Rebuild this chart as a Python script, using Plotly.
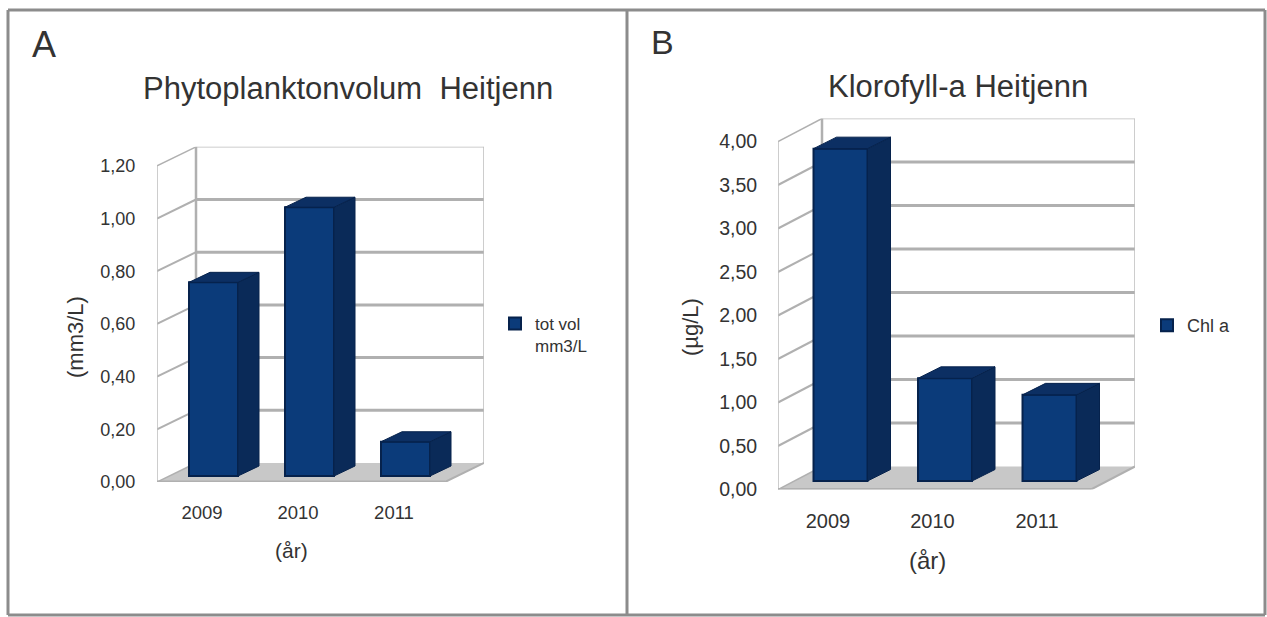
import plotly.graph_objects as go

W, H = 1267, 617

# ---------- data ----------
years = ["2009", "2010", "2011"]
phyto_values = [0.735, 1.02, 0.13]
phyto_ticks = [0.0, 0.2, 0.4, 0.6, 0.8, 1.0, 1.2]
chla_values = [3.82, 1.18, 0.99]
chla_ticks = [0.0, 0.5, 1.0, 1.5, 2.0, 2.5, 3.0, 3.5, 4.0]

FRONT, EDGE, SIDE, TOP = "#0b3b7a", "#06224c", "#0a2a58", "#0c2f63"
GRID, WALL, FLOOR = "#b0b0b0", "#bdbdbd", "#c8c8c8"
TXT = "#333333"
FONT = "Liberation Sans"


def comma(v):
    return f"{v:.2f}".replace(".", ",")


fig = go.Figure()
shapes = []
annotations = []


def panel(sfx, values, ticks, name, legend_id, g):
    """g holds the pixel geometry of one pseudo-3D panel."""
    sx, sy = g["sx"], g["sy"]
    xa, ya = "x" + sfx, "y" + sfx
    ddx, ddy = g["depth"][0] / sx, g["depth"][1] / sy
    x0 = (g["left"] - g["tick0"]) / sx
    x1 = (g["right"] - g["tick0"]) / sx
    xmax = x1 + ddx
    ymax = ticks[-1] + ddy

    def add(path=None, **kw):
        shapes.append(dict(xref=xa, yref=ya, layer="below", **kw) if path is None
                       else dict(type="path", path=path, xref=xa, yref=ya, layer="below", **kw))

    # floor
    add(path=f"M{x0},0 L{x1},0 L{xmax},{ddy} L{x0+ddx},{ddy} Z",
        fillcolor=FLOOR, line=dict(width=0))
    # walls and grid, drawn from the tick values
    for t in ticks:
        add(type="line", x0=x0, y0=t, x1=x0 + ddx, y1=t + ddy,
            line=dict(color=GRID, width=2 if t not in (ticks[0], ticks[-1]) else 1.5))
        if t != ticks[0]:
            add(type="line", x0=x0 + ddx, y0=t + ddy, x1=xmax, y1=t + ddy,
                line=dict(color=GRID if t != ticks[-1] else WALL,
                          width=3 if t != ticks[-1] else 1.5))
    add(type="line", x0=x0 + ddx, y0=ddy, x1=x0 + ddx, y1=ymax, line=dict(color=GRID, width=2.5))
    add(type="line", x0=x0, y0=0, x1=x0, y1=ticks[-1], line=dict(color=WALL, width=1.5))
    add(type="line", x0=xmax, y0=ddy, x1=xmax, y1=ymax, line=dict(color=WALL, width=1.5))
    add(type="line", x0=x0, y0=0, x1=x1, y1=0, line=dict(color=GRID, width=3))
    add(type="line", x0=x1, y0=0, x1=xmax, y1=ddy, line=dict(color=GRID, width=2))

    # bars
    off = g["bar_off"] / sx
    base = g["bar_base"] / sy
    bw = g["bar_w"] / sx
    bdx, bdy = g["bar_depth"][0] / sx, g["bar_depth"][1] / sy
    xs = [i + off for i in range(len(values))]
    fig.add_trace(go.Bar(x=xs, y=values, base=base, width=bw, name=name,
                         marker=dict(color=FRONT, line=dict(color=EDGE, width=2)),
                         xaxis=xa, yaxis=ya, legend=legend_id))
    for xc, v in zip(xs, values):
        l, r, top = xc - bw / 2, xc + bw / 2, base + v
        fig.add_trace(go.Scatter(x=[r, r + bdx, r + bdx, r, r], y=[base, base + bdy, top + bdy, top, base],
                                 mode="lines", fill="toself", fillcolor=SIDE,
                                 line=dict(color=EDGE, width=1), showlegend=False,
                                 hoverinfo="skip", xaxis=xa, yaxis=ya))
        fig.add_trace(go.Scatter(x=[l, r, r + bdx, l + bdx, l], y=[top, top, top + bdy, top + bdy, top],
                                 mode="lines", fill="toself", fillcolor=TOP,
                                 line=dict(color=EDGE, width=1), showlegend=False,
                                 hoverinfo="skip", xaxis=xa, yaxis=ya))

    key = sfx if sfx else ""
    fig.update_layout(**{
        "xaxis" + key: dict(
            domain=[g["left"] / W, (g["right"] + g["depth"][0]) / W],
            range=[x0, xmax], tickmode="array", tickvals=list(range(len(years))), ticktext=years,
            showgrid=False, zeroline=False, showline=False, ticks="outside",
            ticklen=g["xgap"], tickcolor="rgba(0,0,0,0)", tickfont=dict(family=FONT, size=g["xtick_size"], color=TXT),
            anchor=ya, fixedrange=True),
        "yaxis" + key: dict(
            domain=[1 - g["zero_y"] / H, 1 - (g["zero_y"] - ymax * sy) / H],
            range=[0, ymax], tickmode="array", tickvals=ticks, ticktext=[comma(t) for t in ticks],
            showgrid=False, zeroline=False, showline=False, ticks="outside",
            ticklen=g["ygap"], tickcolor="rgba(0,0,0,0)", tickfont=dict(family=FONT, size=g["tick_size"], color=TXT),
            anchor=xa, fixedrange=True),
    })


geo_a = dict(sx=96, sy=263.5, tick0=202, left=157, right=445, zero_y=482, depth=(39, 19),
             bar_off=11.5, bar_base=6, bar_w=49, bar_depth=(21, 10), xgap=14, ygap=17, tick_size=18, xtick_size=18.5)
geo_b = dict(sx=104.5, sy=87, tick0=828, left=778, right=1091, zero_y=489.5, depth=(44, 23),
             bar_off=12.5, bar_base=8.5, bar_w=54, bar_depth=(23, 11.5), xgap=13, ygap=16, tick_size=19.5, xtick_size=20)

panel("", phyto_values, phyto_ticks, "tot vol<br>mm3/L", "legend", geo_a)
panel("2", chla_values, chla_ticks, "Chl a", "legend2", geo_b)


def label(text, px, py, size, angle=0, anchor="center"):
    annotations.append(dict(text=text, x=px / W, y=1 - py / H, xref="paper", yref="paper",
                            xanchor=anchor, yanchor="middle", showarrow=False, textangle=angle,
                            font=dict(family=FONT, size=size, color=TXT)))


label("A", 44, 45, 36)
label("B", 662, 42, 34)
label("Phytoplanktonvolum  Heitjenn", 348, 88, 31)
label("Klorofyll-a Heitjenn", 958, 86, 31)
label("(mm3/L)", 75, 337, 22, angle=-90)
label("(µg/L)", 690, 327, 22, angle=-90)
label("(år)", 291, 550, 21)
label("(år)", 927, 560, 24)

# frame of the two panels
frame = dict(color="#8c8c8c", width=3)
for x0, y0, x1, y1 in [(8, 10, 1265, 10), (8, 615, 1265, 615), (8, 10, 8, 615),
                       (1265, 10, 1265, 615), (627, 10, 627, 615)]:
    shapes.append(dict(type="line", xref="paper", yref="paper", x0=x0 / W, x1=x1 / W,
                       y0=1 - y0 / H, y1=1 - y1 / H, line=frame, layer="above"))

legend_base = dict(bgcolor="rgba(0,0,0,0)", borderwidth=0, xanchor="left", yanchor="top",
                   valign="top", itemclick=False, itemdoubleclick=False)
fig.update_layout(
    width=W, height=H, margin=dict(l=0, r=0, t=0, b=0, autoexpand=False),
    paper_bgcolor="white", plot_bgcolor="white", showlegend=True, barmode="overlay",
    shapes=shapes, annotations=annotations,
    legend=dict(x=495 / W, y=1 - 306 / H, font=dict(family=FONT, size=17, color=TXT), **legend_base),
    legend2=dict(x=1147 / W, y=1 - 307 / H, font=dict(family=FONT, size=18, color=TXT), **legend_base),
)

fig.write_html("out.html", post_script="document.body.style.margin='0';", config={"displayModeBar": False})
